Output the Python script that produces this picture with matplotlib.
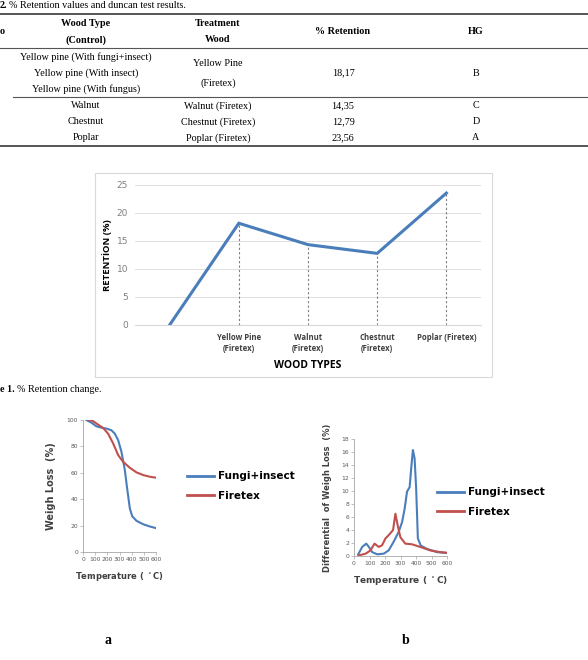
import matplotlib.pyplot as plt
from matplotlib.lines import Line2D
import numpy as np

# table data
wood_control = ["Yellow pine (With fungi+insect)", "Yellow pine (With insect)",
                "Yellow pine (With fungus)", "Walnut", "Chestnut", "Poplar"]
treatment = ["Yellow Pine\n(Firetex)", "Walnut (Firetex)", "Chestnut (Firetex)", "Poplar (Firetex)"]
retention_txt = ["18,17", "14,35", "12,79", "23,56"]
hg = ["B", "C", "D", "A"]

# retention chart
wood_types = ["", "Yellow Pine\n(Firetex)", "Walnut\n(Firetex)", "Chestnut\n(Firetex)", "Poplar (Firetex)"]
retention = [0, 18.17, 14.35, 12.79, 23.56]

# TGA curves (a)
tga_t_fi = [27, 69, 110, 151, 193, 234, 261, 289, 316, 344, 363, 385, 405, 440, 495, 550, 600]
tga_fi = [100, 98, 95.2, 94.2, 93.5, 92.2, 89.7, 84.7, 75.9, 62, 48, 33, 27, 23.6, 21, 19.3, 18.1]
tga_t_fx = [41, 77, 124, 165, 206, 248, 289, 330, 385, 440, 495, 550, 600]
tga_fx = [100, 99.5, 96.5, 94, 89.7, 82.2, 73.4, 68.3, 63.8, 60.3, 58.3, 57, 56.3]

# DTG curves (b)
dtg_t_fi = [26, 53, 79, 96, 117, 150, 192, 224, 256, 288, 310, 327, 342, 359, 369, 380,
            391, 401, 412, 431, 470, 534, 600]
dtg_fi = [0.2, 1.4, 1.9, 1.4, 0.6, 0.26, 0.36, 0.87, 2.2, 3.7, 5.2, 7.3, 9.9, 10.6, 13.5, 16.3,
          15, 10.4, 2.7, 1.6, 1.1, 0.6, 0.46]
dtg_t_fx = [32, 75, 107, 132, 160, 181, 203, 231, 252, 267, 282, 299, 331, 374, 427, 491, 555, 600]
dtg_fx = [0.1, 0.36, 0.87, 1.9, 1.4, 1.65, 2.7, 3.4, 4.0, 6.5, 4.7, 2.9, 1.9, 1.8, 1.4, 0.87, 0.6, 0.5]

W, H = 588, 660
fig = plt.figure(figsize=(W / 100, H / 100), dpi=100)
serif = "Liberation Serif"
blue = "#4a7ebb"
red = "#c0504d"


def fx(px):
    return px / W


def fy(py):
    return 1 - py / H


def box(x0, y0, x1, y1):
    return [fx(x0), fy(y1), fx(x1) - fx(x0), fy(y0) - fy(y1)]


def hline(y, x0, x1, lw):
    fig.add_artist(Line2D([fx(x0), fx(x1)], [fy(y), fy(y)], color="#555555", lw=lw))


# ---- table ----
fig.text(fx(0), fy(6), "2.", fontsize=7.3, family=serif, weight="bold", va="center")
fig.text(fx(9), fy(6), "% Retention values and duncan test results.", fontsize=7.3, family=serif, va="center")
hline(14, 0, W, 1.4)
hline(48, 0, W, 0.8)
hline(97, 13, W, 0.8)
hline(146, 0, W, 1.4)
fig.text(fx(0), fy(32), "o", fontsize=7.3, family=serif, weight="bold", va="center")
cols = [86, 218, 343, 476]
kw = dict(fontsize=7.3, family=serif, ha="center", va="center")
fig.text(fx(cols[0]), fy(23), "Wood Type", weight="bold", **kw)
fig.text(fx(cols[0]), fy(40), "(Control)", weight="bold", **kw)
fig.text(fx(cols[1]), fy(23), "Treatment", weight="bold", **kw)
fig.text(fx(cols[1]), fy(40), "Wood", weight="bold", **kw)
fig.text(fx(cols[2]), fy(31), "% Retention", weight="bold", **kw)
fig.text(fx(cols[3]), fy(31), "HG", weight="bold", **kw)
row_y = [57, 73, 89, 106, 122, 138]
for name, y in zip(wood_control, row_y):
    fig.text(fx(cols[0]), fy(y), name, **kw)
fig.text(fx(cols[1]), fy(63), "Yellow Pine", **kw)
fig.text(fx(cols[1]), fy(83), "(Firetex)", **kw)
for i, y in enumerate([73, 106, 122, 138]):
    if i > 0:
        fig.text(fx(cols[1]), fy(y), treatment[i], **kw)
    fig.text(fx(cols[2]), fy(y), retention_txt[i], **kw)
    fig.text(fx(cols[3]), fy(y), hg[i], **kw)

# ---- retention chart ----
fig.add_artist(plt.Rectangle((fx(95), fy(377)), fx(492) - fx(95), fy(173) - fy(377),
                             fill=False, ec="#d9d9d9", lw=0.8))
ax = fig.add_axes(box(135, 185, 481, 325))
xs = np.arange(len(retention))
ax.vlines(xs[1:], 0, retention[1:], colors="#7f7f7f", linestyles=(0, (2, 2)), lw=0.8)
ax.plot(xs, retention, color=blue, lw=2.2, solid_joinstyle="miter")
ax.set_xlim(-0.5, 4.5)
ax.set_ylim(0, 25)
ax.set_yticks(range(0, 26, 5))
ax.grid(axis="y", color="#d9d9d9", lw=0.6)
ax.set_axisbelow(True)
for s in ["top", "right", "left"]:
    ax.spines[s].set_visible(False)
ax.spines["bottom"].set_color("#d9d9d9")
ax.tick_params(axis="y", length=0, labelsize=6.5, labelcolor="#7f7f7f", pad=5)
ax.tick_params(axis="x", length=0, pad=6)
ax.set_xticks(xs)
ax.set_xticklabels(wood_types, fontsize=5.6, weight="bold", color="#404040", family="Open Sans")
ax.set_xlabel("WOOD TYPES", fontsize=7.5, weight="bold", labelpad=5, family="Open Sans")
ax.set_ylabel("RETENTİON (%)", fontsize=6.8, weight="bold", labelpad=3, family="Open Sans")
fig.text(fx(0), fy(389), "e 1.", fontsize=7.3, family=serif, weight="bold", va="center")
fig.text(fx(17), fy(389), "% Retention change.", fontsize=7.3, family=serif, va="center")


def small_axes(a):
    for s in ["top", "right"]:
        a.spines[s].set_visible(False)
    for s in ["left", "bottom"]:
        a.spines[s].set_color("#a6a6a6")
        a.spines[s].set_linewidth(0.6)
    a.tick_params(length=2, width=0.5, color="#a6a6a6", labelsize=4.3, labelcolor="#595959", pad=1.5)


# ---- (a) TGA ----
axa = fig.add_axes(box(83, 420, 156, 552))
axa.plot(tga_t_fi, tga_fi, color=blue, lw=1.5, label="Fungi+insect")
axa.plot(tga_t_fx, tga_fx, color=red, lw=1.5, label="Firetex")
axa.set_xlim(0, 600)
axa.set_ylim(0, 100)
axa.set_xticks(range(0, 601, 100))
axa.set_yticks(range(0, 101, 20))
small_axes(axa)
axa.set_ylabel("Weigh Loss  (%)", fontsize=7, weight="bold", color="#404040", labelpad=8)
axa.set_xlabel("Temperature ( $^\\circ$C)", fontsize=6, weight="bold", color="#404040", labelpad=6)
leg = axa.legend(loc="center left", bbox_to_anchor=(fx(178), fy(486)), bbox_transform=fig.transFigure,
                 frameon=False, prop={"size": 7.5, "weight": "bold"}, handlelength=2.6,
                 handletextpad=0.3, labelspacing=0.9)
for h in leg.get_lines():
    h.set_linewidth(2)

# ---- (b) DTG ----
axb = fig.add_axes(box(354, 439, 447, 556))
axb.plot(dtg_t_fi, dtg_fi, color=blue, lw=1.5, label="Fungi+insect")
axb.plot(dtg_t_fx, dtg_fx, color=red, lw=1.5, label="Firetex")
axb.set_xlim(0, 600)
axb.set_ylim(0, 18)
axb.set_xticks(range(0, 601, 100))
axb.set_yticks(range(0, 19, 2))
small_axes(axb)
axb.set_ylabel("Differential  of Weigh Loss  (%)", fontsize=6, weight="bold", color="#404040", labelpad=7)
axb.set_xlabel("Temperature ( $^\\circ$C)", fontsize=6.5, weight="bold", color="#404040", labelpad=6)
leg = axb.legend(loc="center left", bbox_to_anchor=(fx(428), fy(502)), bbox_transform=fig.transFigure,
                 frameon=False, prop={"size": 7.5, "weight": "bold"}, handlelength=2.6,
                 handletextpad=0.3, labelspacing=0.9)
for h in leg.get_lines():
    h.set_linewidth(2)

fig.text(fx(108), fy(640), "a", fontsize=10, family=serif, weight="bold", ha="center", va="center")
fig.text(fx(406), fy(640), "b", fontsize=10, family=serif, weight="bold", ha="center", va="center")

fig.savefig("out.png", dpi=100)
